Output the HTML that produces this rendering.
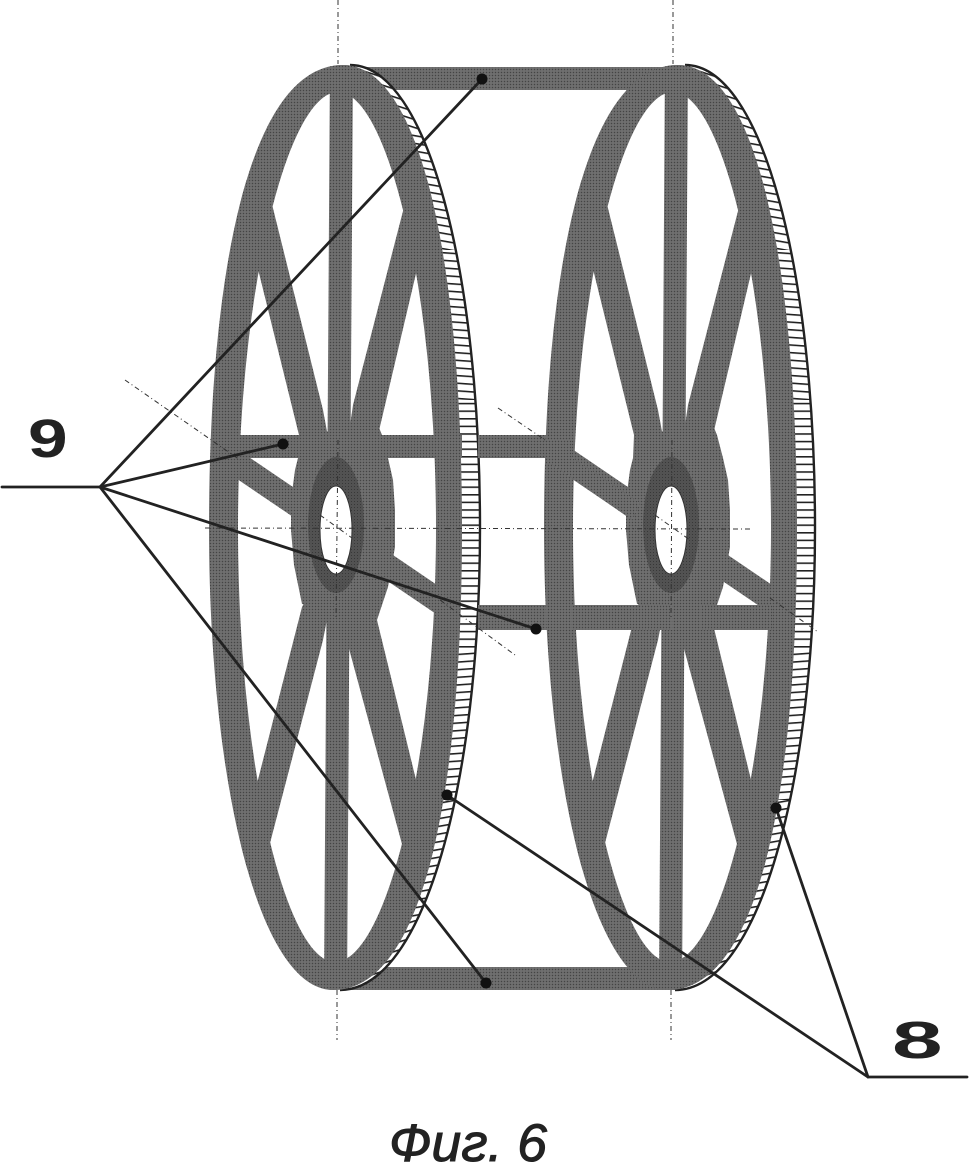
<!DOCTYPE html>
<html><head><meta charset="utf-8"><style>
html,body{margin:0;padding:0;background:#fff;width:972px;height:1173px;overflow:hidden}
svg{display:block}
text{font-family:"Liberation Sans",sans-serif;fill:#222}
</style></head><body>
<svg width="972" height="1173" viewBox="0 0 972 1173" xmlns="http://www.w3.org/2000/svg">
<defs>
<pattern id="g" width="3" height="3" patternUnits="userSpaceOnUse">
<rect width="3" height="3" fill="#686868"/><rect width="1" height="1" fill="#444"/><rect x="1.5" y="1.5" width="1" height="1" fill="#848484"/>
</pattern>
<pattern id="d" width="3" height="3" patternUnits="userSpaceOnUse">
<rect width="3" height="3" fill="#525252"/><rect width="1" height="1" fill="#383838"/>
</pattern>
<pattern id="t0" width="20" height="7.6" patternUnits="userSpaceOnUse"><rect width="20" height="7.6" fill="#fff"/><rect width="20" height="1.6" fill="#222"/></pattern>
<pattern id="t1" width="20" height="7.6" patternUnits="userSpaceOnUse" patternTransform="rotate(4)"><rect width="20" height="7.6" fill="#fff"/><rect width="20" height="1.6" fill="#222"/></pattern>
<pattern id="t2" width="20" height="7.6" patternUnits="userSpaceOnUse" patternTransform="rotate(10)"><rect width="20" height="7.6" fill="#fff"/><rect width="20" height="1.6" fill="#222"/></pattern>
<pattern id="t3" width="20" height="7.6" patternUnits="userSpaceOnUse" patternTransform="rotate(18)"><rect width="20" height="7.6" fill="#fff"/><rect width="20" height="1.6" fill="#222"/></pattern>
<pattern id="t4" width="20" height="7.6" patternUnits="userSpaceOnUse" patternTransform="rotate(-4)"><rect width="20" height="7.6" fill="#fff"/><rect width="20" height="1.6" fill="#222"/></pattern>
<pattern id="t5" width="20" height="7.6" patternUnits="userSpaceOnUse" patternTransform="rotate(-10)"><rect width="20" height="7.6" fill="#fff"/><rect width="20" height="1.6" fill="#222"/></pattern>
<pattern id="t6" width="20" height="7.6" patternUnits="userSpaceOnUse" patternTransform="rotate(-18)"><rect width="20" height="7.6" fill="#fff"/><rect width="20" height="1.6" fill="#222"/></pattern>
<clipPath id="face"><path d="M343,65 C249,65 209,273 209,528 C209,782 259,990 333,990 C426,990 462,782 462,528 C462,273 423,65 343,65 Z"/></clipPath>
<clipPath id="tc"><path d="M350,65 C428,65 480,273 480,528 C480,782 424,990 340,990 Z"/></clipPath>
<g id="wheel">
<!-- teeth -->
<g clip-path="url(#tc)">
<rect x="330" y="60" width="160" height="70" fill="url(#t3)"/>
<rect x="330" y="130" width="160" height="120" fill="url(#t2)"/>
<rect x="330" y="250" width="160" height="150" fill="url(#t1)"/>
<rect x="330" y="400" width="160" height="250" fill="url(#t0)"/>
<rect x="330" y="650" width="160" height="150" fill="url(#t4)"/>
<rect x="330" y="800" width="160" height="120" fill="url(#t5)"/>
<rect x="330" y="920" width="160" height="75" fill="url(#t6)"/>
</g>
<path d="M350,65 C428,65 480,273 480,528 C480,782 424,990 340,990" fill="none" stroke="#222" stroke-width="2.4"/>
<!-- face -->
<path d="M343,65 C249,65 209,273 209,528 C209,782 259,990 333,990 C426,990 462,782 462,528 C462,273 423,65 343,65 Z" fill="url(#g)"/>
<!-- opening -->
<path d="M338,92 C288,92 238,288 238,528 C238,767 286.5,962 335,962 C385,962 436,767 436,528 C436,288 387,92 338,92 Z" fill="#fff"/>
<!-- spokes -->
<g fill="url(#g)" clip-path="url(#face)">
<polygon points="330,60 353,60 347,995 324,995"/>
<polygon points="236,180 266,180 323,410 345,528 299,435"/>
<polygon points="438,180 411,180 353,405 335,528 378,435"/>
<polygon points="302,607 235,870 263,870 323,640 345,528"/>
<polygon points="377,620 438,870 409,870 348,645 335,528"/>
<polygon points="215,434 440,587 445,620 215,464"/>
</g>
<!-- hub -->
<polygon points="299,435 378,425 382,435 388,458 393,480 395,510 395,547 388,587 377,620 302,604 294,565 291,530 291,500 295,470 298,458" fill="url(#g)"/>
<ellipse cx="336" cy="525" rx="28" ry="68" fill="url(#d)"/>
<ellipse cx="336" cy="530" rx="16" ry="44" fill="#fff" stroke="#333" stroke-width="1"/>
</g>
</defs>

<!-- connecting bars -->
<g fill="url(#g)">
<rect x="350" y="67" width="330" height="23"/>
<rect x="345" y="967" width="335" height="23"/>
</g>

<use href="#wheel"/>
<!-- upper bar, drawn on wheel 1 and up to wheel 2 -->
<rect x="238" y="435" width="62" height="23" fill="url(#g)"/>
<rect x="378" y="435" width="84" height="23" fill="url(#g)"/>
<rect x="478" y="435" width="72" height="23" fill="url(#g)"/>
<rect x="478" y="605" width="100" height="25" fill="url(#g)"/>

<use href="#wheel" transform="translate(335 0)"/>
<!-- lower bar in wheel 2 -->
<rect x="572" y="605" width="100" height="25" fill="url(#g)"/>
<rect x="700" y="605" width="72" height="25" fill="url(#g)"/>
<!-- band at wheel 2 left -->
<polygon points="540,436 640,503 632,520 546,460" fill="url(#g)"/>
<rect x="545" y="440" width="27" height="24" fill="url(#g)"/>

<!-- centre lines -->
<g stroke="#333" stroke-width="1" fill="none" stroke-dasharray="5 3 1 3">
<line x1="338" y1="0" x2="338" y2="64"/>
<line x1="337" y1="990" x2="337" y2="1040"/>
<line x1="673" y1="0" x2="673" y2="64"/>
<line x1="671" y1="990" x2="671" y2="1040"/>
<line x1="338" y1="440" x2="336" y2="620"/>
<line x1="672" y1="440" x2="671" y2="620"/>
<line x1="205" y1="528" x2="750" y2="529"/>
<line x1="125" y1="380" x2="240" y2="460"/>
<line x1="320" y1="515" x2="352" y2="538"/>
<line x1="440" y1="600" x2="515" y2="655"/>
<line x1="498" y1="408" x2="545" y2="440"/>
<line x1="655" y1="515" x2="690" y2="540"/>
<line x1="770" y1="598" x2="818" y2="632"/>
</g>

<!-- leaders -->
<g stroke="#222" stroke-width="2.8" fill="none" stroke-linecap="round">
<polyline points="2,487 100,487 482,79"/>
<line x1="100" y1="487" x2="283" y2="444"/>
<line x1="100" y1="487" x2="536" y2="629"/>
<line x1="100" y1="487" x2="486" y2="983"/>
<polyline points="967,1077 868,1077 447,795"/>
<line x1="868" y1="1077" x2="776" y2="808"/>
</g>
<g fill="#111">
<circle cx="482" cy="79" r="5.5"/>
<circle cx="283" cy="444" r="5.5"/>
<circle cx="536" cy="629" r="5.5"/>
<circle cx="486" cy="983" r="5.5"/>
<circle cx="447" cy="795" r="5.5"/>
<circle cx="776" cy="808" r="5.5"/>
</g>

<!-- labels -->
<text transform="translate(28 457) scale(1.32 1)" font-size="54" font-weight="bold">9</text>
<text transform="translate(892 1058) scale(1.75 1)" font-size="52" font-weight="bold">8</text>
<text x="389" y="1161" font-size="53" font-style="italic" stroke="#222" stroke-width="1" textLength="158" lengthAdjust="spacingAndGlyphs">Фиг. 6</text>
</svg>
</body></html>
